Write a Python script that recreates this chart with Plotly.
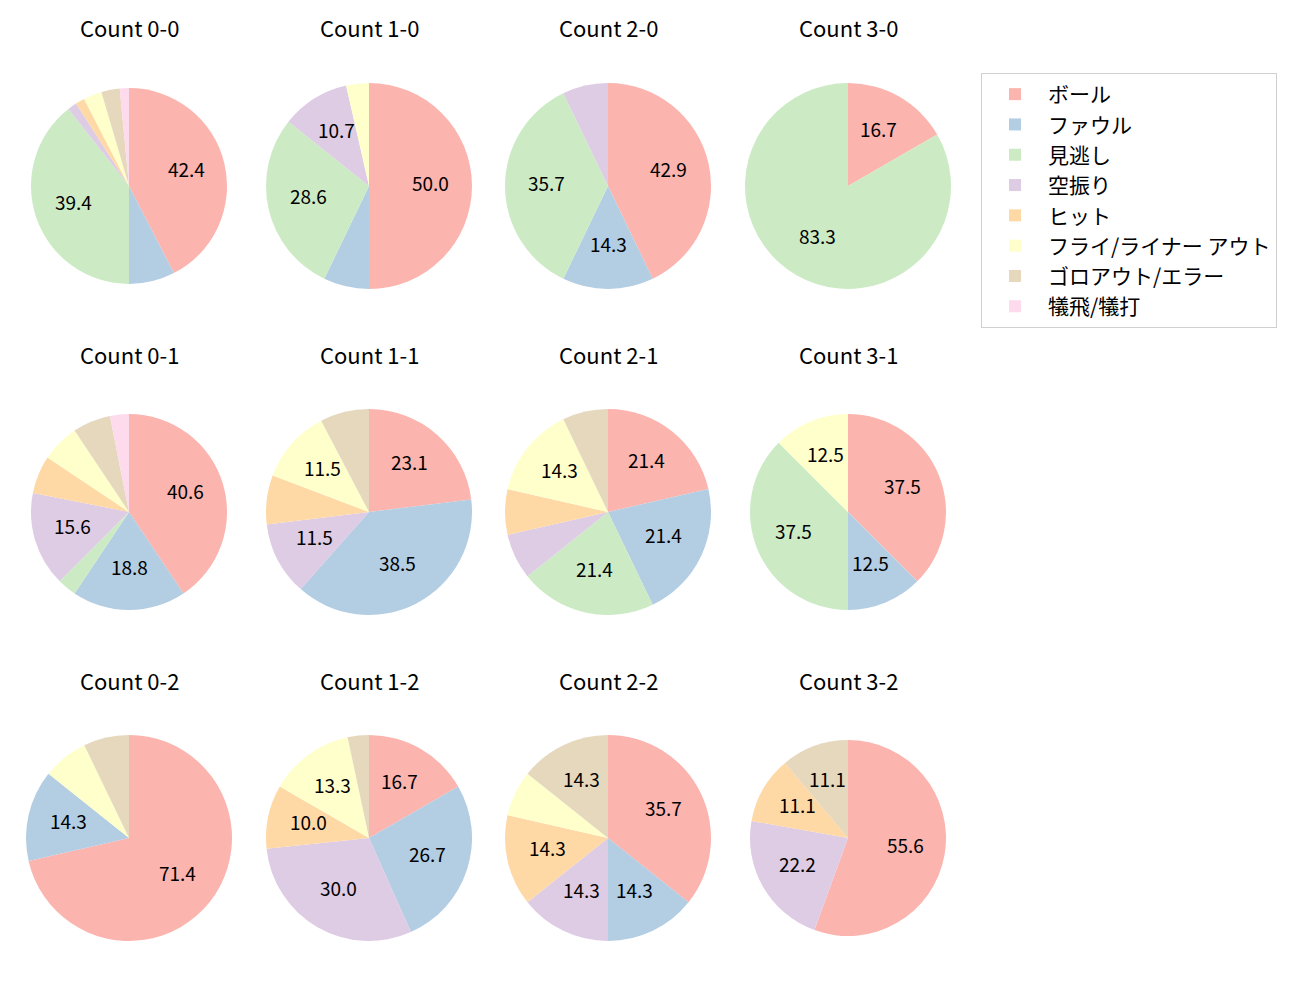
import math
import plotly.graph_objects as go

categories = ['ボール', 'ファウル', '見逃し', '空振り', 'ヒット',
              'フライ/ライナー アウト', 'ゴロアウト/エラー', '犠飛/犠打']
colors = ['#fbb4ae', '#b3cde3', '#ccebc5', '#decbe4', '#fed9a6',
          '#ffffcc', '#e5d8bd', '#fddaec']

count_labels = ['Count 0-0', 'Count 1-0', 'Count 2-0', 'Count 3-0',
                'Count 0-1', 'Count 1-1', 'Count 2-1', 'Count 3-1',
                'Count 0-2', 'Count 1-2', 'Count 2-2', 'Count 3-2']

c00 = [28, 5, 26, 1, 1, 2, 2, 1]
c10 = [14, 2, 8, 3, 0, 1, 0, 0]
c20 = [6, 2, 5, 1, 0, 0, 0, 0]
c30 = [1, 0, 5, 0, 0, 0, 0, 0]
c01 = [13, 6, 1, 5, 2, 2, 2, 1]
c11 = [6, 10, 0, 3, 2, 3, 2, 0]
c21 = [3, 3, 3, 1, 1, 2, 1, 0]
c31 = [3, 1, 3, 0, 0, 1, 0, 0]
c02 = [10, 2, 0, 0, 0, 1, 1, 0]
c12 = [5, 8, 0, 9, 3, 4, 1, 0]
c22 = [5, 2, 0, 2, 2, 1, 2, 0]
c32 = [5, 0, 0, 2, 1, 0, 1, 0]
series = [c00, c10, c20, c30, c01, c11, c21, c31, c02, c12, c22, c32]

# layout in window pixels; the page body has an 8px margin
OFF = 8
WIN_W, WIN_H = 1300, 1000
W, H = WIN_W - OFF, WIN_H - OFF
col_x = [129, 369, 608, 848]
row_y = [186, 512, 838]
title_y = [29, 356, 682]
radii = [98, 103, 103, 103,
         98, 103, 103, 98,
         103, 103, 103, 98]


def px_x(x):
    return (x - OFF) / W


def px_y(y):
    return 1 - (y - OFF) / H


FONT = 'Noto Sans CJK JP'
fig = go.Figure()
annotations = []

for k, vals in enumerate(series):
    r_i, c_i = divmod(k, 4)
    cx, cy, rad = col_x[c_i], row_y[r_i], radii[k]
    fig.add_trace(go.Pie(
        labels=categories, values=vals, sort=False, direction='clockwise',
        rotation=0, marker=dict(colors=colors, line=dict(width=0)),
        textinfo='none', hoverinfo='label+percent', showlegend=(k == 0),
        domain=dict(x=[px_x(cx - rad), px_x(cx + rad)],
                    y=[px_y(cy + rad), px_y(cy - rad)]),
        name=count_labels[k],
    ))
    annotations.append(dict(
        text=count_labels[k], x=px_x(cx), y=px_y(title_y[r_i]), yshift=2,
        xref='paper', yref='paper', xanchor='center', yanchor='middle',
        showarrow=False, font=dict(family=FONT, size=22, color='black')))
    total = sum(vals)
    cum = 0
    for v in vals:
        pct = 100.0 * v / total
        mid = (cum + v / 2) / total
        cum += v
        if round(pct, 1) >= 10:
            ang = 2 * math.pi * mid
            tx = cx + 0.6 * rad * math.sin(ang)
            ty = cy - 0.6 * rad * math.cos(ang)
            annotations.append(dict(
                text=f'{pct:.1f}', x=px_x(tx), y=px_y(ty), yshift=4,
                xref='paper', yref='paper', xanchor='center', yanchor='middle',
                showarrow=False, font=dict(family=FONT, size=19, color='black')))

fig.update_layout(
    width=W, height=H, margin=dict(l=0, r=0, t=0, b=0),
    paper_bgcolor='white', plot_bgcolor='white',
    font=dict(family=FONT, color='black'),
    annotations=annotations,
    legend=dict(x=px_x(981), y=px_y(73), xanchor='left', yanchor='top',
                bgcolor='white', bordercolor='#d0d0d0', borderwidth=1,
                font=dict(family=FONT, size=21, color='black'),
                itemwidth=56, traceorder='normal'),
)

fig.write_html('out.html')
